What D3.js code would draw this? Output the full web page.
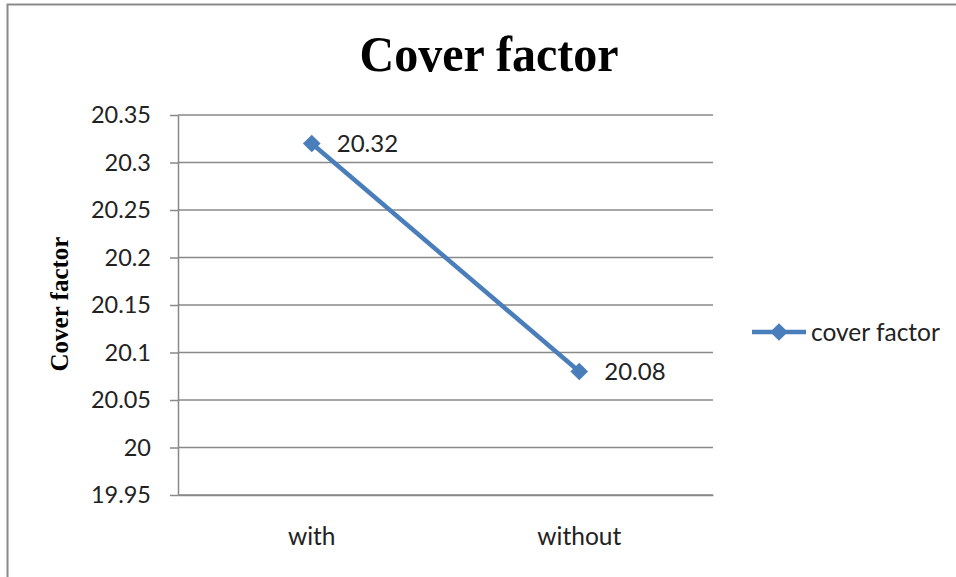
<!DOCTYPE html>
<html>
<head>
<meta charset="utf-8">
<script src="https://cdn.jsdelivr.net/npm/d3@7"></script>
<style>
  html, body { margin: 0; padding: 0; background: #fff; }
  svg { display: block; }
</style>
</head>
<body>
<svg id="chart" width="956" height="577"></svg>
<script>
// Chart data
const categories = ["with", "without"];
const seriesName = "cover factor";
const values = [20.32, 20.08];
const yTicks = [19.95, 20, 20.05, 20.1, 20.15, 20.2, 20.25, 20.3, 20.35];
const yTickLabels = ["19.95", "20", "20.05", "20.1", "20.15", "20.2", "20.25", "20.3", "20.35"];

const svg = d3.select("#chart");
const W = 956, H = 577;
const plot = { left: 178, right: 713, top: 115, bottom: 495 };
const gridColor = "#898989";
const lineColor = "#4A7EBB";
const sans = "Lato, 'Open Sans', sans-serif";
const serif = "'Liberation Serif', 'DejaVu Serif', serif";

// Outer chart frame
svg.append("rect")
  .attr("x", 7.5).attr("y", 4.5)
  .attr("width", W + 20).attr("height", H + 20)
  .attr("fill", "#fff")
  .attr("stroke", "#8a8a8a").attr("stroke-width", 2);

const x = d3.scaleBand().domain(categories).range([plot.left, plot.right]);
const y = d3.scaleLinear().domain([19.95, 20.35]).range([plot.bottom, plot.top]);

// Horizontal gridlines
svg.append("g")
  .selectAll("line")
  .data(yTicks)
  .join("line")
  .attr("x1", plot.left).attr("x2", plot.right)
  .attr("y1", d => y(d)).attr("y2", d => y(d))
  .attr("stroke", gridColor).attr("stroke-width", 1.5);

// Y axis
const yAxis = d3.axisLeft(y)
  .tickValues(yTicks)
  .tickFormat((d, i) => yTickLabels[i])
  .tickSizeInner(8).tickSizeOuter(0).tickPadding(19);
const gy = svg.append("g").attr("transform", `translate(${plot.left},0)`).call(yAxis);
gy.select(".domain").attr("stroke", gridColor).attr("stroke-width", 1.5);
gy.selectAll(".tick line").attr("stroke", gridColor).attr("stroke-width", 1.5);
gy.selectAll(".tick text")
  .attr("fill", "#222")
  .style("font-family", sans).style("font-size", "23.5px");

// X axis
const xAxis = d3.axisBottom(x).tickSize(0).tickPadding(33);
const gx = svg.append("g").attr("transform", `translate(0,${plot.bottom})`).call(xAxis);
gx.select(".domain").attr("stroke", gridColor).attr("stroke-width", 1.5);
gx.selectAll(".tick text")
  .attr("fill", "#222")
  .style("font-family", sans).style("font-size", "24.5px");

// Series line
const pts = categories.map((c, i) => ({ c, v: values[i] }));
const line = d3.line().x(d => x(d.c) + x.bandwidth() / 2).y(d => y(d.v));
svg.append("path")
  .datum(pts)
  .attr("d", line)
  .attr("fill", "none")
  .attr("stroke", lineColor).attr("stroke-width", 4.5);

// Diamond markers
const diamond = d3.symbol().type(d3.symbolDiamond2).size(200);
svg.append("g")
  .selectAll("path")
  .data(pts)
  .join("path")
  .attr("transform", d => `translate(${x(d.c) + x.bandwidth() / 2},${y(d.v)})`)
  .attr("d", diamond)
  .attr("fill", lineColor);

// Value labels
svg.append("g")
  .selectAll("text")
  .data(pts)
  .join("text")
  .attr("x", d => x(d.c) + x.bandwidth() / 2 + 25)
  .attr("y", d => y(d.v))
  .attr("dy", "0.36em")
  .attr("fill", "#222")
  .style("font-family", sans).style("font-size", "24px")
  .text(d => d.v.toFixed(2));

// Title
svg.append("text")
  .attr("transform", "translate(489,71) scale(1,1.06)")
  .attr("text-anchor", "middle")
  .style("font-family", serif).style("font-weight", "bold").style("font-size", "48px")
  .text("Cover factor");

// Y axis title
svg.append("text")
  .attr("transform", "translate(68,304) rotate(-90)")
  .attr("text-anchor", "middle")
  .style("font-family", serif).style("font-weight", "bold").style("font-size", "25px")
  .text("Cover factor");

// Legend
const lg = svg.append("g").attr("transform", "translate(752,332)");
lg.append("line").attr("x1", 0).attr("x2", 54).attr("y1", 0).attr("y2", 0)
  .attr("stroke", lineColor).attr("stroke-width", 4.5);
lg.append("path").attr("transform", "translate(27,0)").attr("d", diamond).attr("fill", lineColor);
lg.append("text").attr("x", 59).attr("y", 0).attr("dy", "0.36em")
  .attr("fill", "#222")
  .style("font-family", sans).style("font-size", "24.5px")
  .text(seriesName);
</script>
</body>
</html>
